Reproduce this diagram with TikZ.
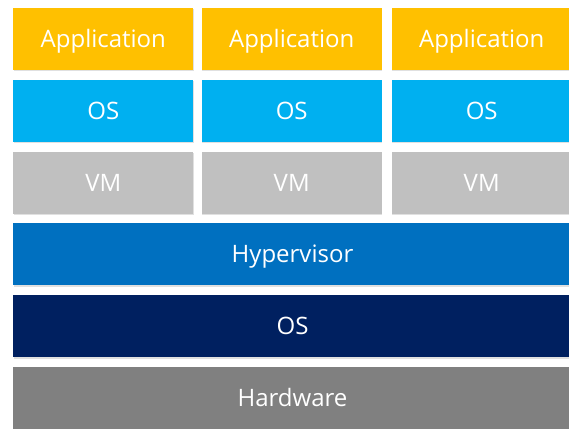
\documentclass[tikz,border=0pt]{standalone}
\usepackage{fontspec}
\setmainfont{Open Sans}
\usetikzlibrary{shadows}
\definecolor{appyellow}{RGB}{255,192,0}
\definecolor{oscyan}{RGB}{0,176,240}
\definecolor{vmgray}{RGB}{192,192,192}
\definecolor{hypblue}{RGB}{0,112,192}
\definecolor{hostnavy}{RGB}{0,32,96}
\definecolor{hwgray}{RGB}{128,128,128}

\begin{document}
\begin{tikzpicture}[x=1pt,y=1pt,
  layer/.style={rectangle, inner sep=0pt, minimum width=180pt, minimum height=62pt,
    text=white, font=\fontsize{24}{28}\selectfont, text height=17pt, text depth=0pt,
    drop shadow={shadow xshift=0.6pt, shadow yshift=-1.5pt, fill=black, opacity=0.12}},
  widelayer/.style={layer, minimum width=558.4pt}]
\useasboundingbox (0,0) rectangle (569,428);
\clip (0,0) rectangle (569,428);
% guest stacks
\foreach \i/\x in {1/103.3,2/291.7,3/481.7}{
  \node[layer, fill=appyellow] (app\i) at (\x,389) {Application};
  \node[layer, fill=oscyan] (os\i) at (\x,317.2) {OS};
  \node[layer, fill=vmgray] (vm\i) at (\x,245.4) {VM};
}
% host layers
\node[widelayer, fill=hypblue] (hyp) at (292.5,173.6) {Hypervisor};
\node[widelayer, fill=hostnavy] (hostos) at (292.5,101.8) {OS};
\node[widelayer, fill=hwgray] (hw) at (292.5,30) {Hardware};
\end{tikzpicture}
\end{document}
